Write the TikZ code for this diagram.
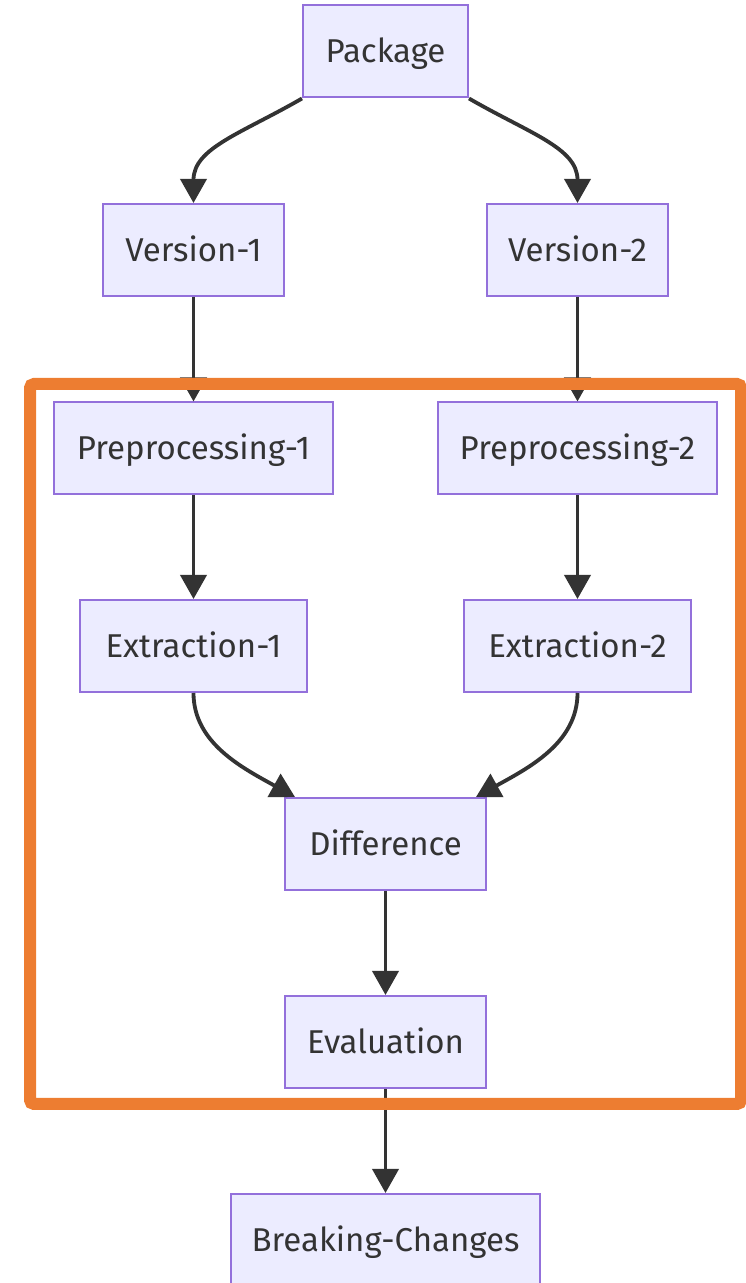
\documentclass[tikz,border=0pt]{standalone}
\usepackage{fontspec}
\setmainfont{Fira Sans}
\usetikzlibrary{arrows.meta,calc}
\definecolor{boxfill}{HTML}{ECECFF}
\definecolor{boxline}{HTML}{9370DB}
\definecolor{ink}{HTML}{333333}
\definecolor{frame}{HTML}{ED7D31}
\tikzset{
  box/.style={draw=boxline, line width=2pt, fill=boxfill, text=ink,
    inner sep=0pt, minimum height=92pt, text height=23pt, text depth=0pt,
    font=\fontsize{33}{39}\selectfont},
  arr/.style={draw=ink, line width=3.8pt,
    -{Triangle[length=24pt,width=26pt]}}
}
\begin{document}
\begin{tikzpicture}[x=1pt,y=1pt]
\useasboundingbox (0,0) rectangle (745,1283);

% nodes
\node[box, minimum width=165pt] (pkg)  at (385.5,1231.5) {Package};
\node[box, minimum width=181pt] (v1)   at (193.5,1033) {Version-1};
\node[box, minimum width=181pt] (v2)   at (577.5,1033) {Version-2};
\node[box, minimum width=279pt] (p1)   at (193.5,834.5) {Preprocessing-1};
\node[box, minimum width=279pt] (p2)   at (577.5,834.5) {Preprocessing-2};
\node[box, minimum width=227pt] (e1)   at (193.5,637) {Extraction-1};
\node[box, minimum width=227pt] (e2)   at (577.5,637) {Extraction-2};
\node[box, minimum width=201pt] (diff) at (385.5,439) {Difference};
\node[box, minimum width=201pt] (eval) at (385.5,241) {Evaluation};
\node[box, minimum width=309pt] (bc)   at (385.5,43) {Breaking-Changes};

% connectors
\draw[arr] (pkg.south west) .. controls +(-150:70) and +(90:55) .. (v1.north);
\draw[arr] (pkg.south east) .. controls +(-30:70) and +(90:55) .. (v2.north);
\draw[arr] (v1) -- (p1);
\draw[arr] (v2) -- (p2);
\draw[arr] (p1) -- (e1);
\draw[arr] (p2) -- (e2);
\draw[arr] (e1.south) .. controls +(-90:50) and +(151:60) .. ($(diff.north west)+(11,0)$);
\draw[arr] (e2.south) .. controls +(-90:50) and +(29:60) .. ($(diff.north east)+(-11,0)$);
\draw[arr] (diff) -- (eval);
\draw[arr] (eval) -- (bc);

% highlight frame
\draw[frame, line width=12pt, rounded corners=4pt] (30,899) rectangle (741,179);
\end{tikzpicture}
\end{document}
